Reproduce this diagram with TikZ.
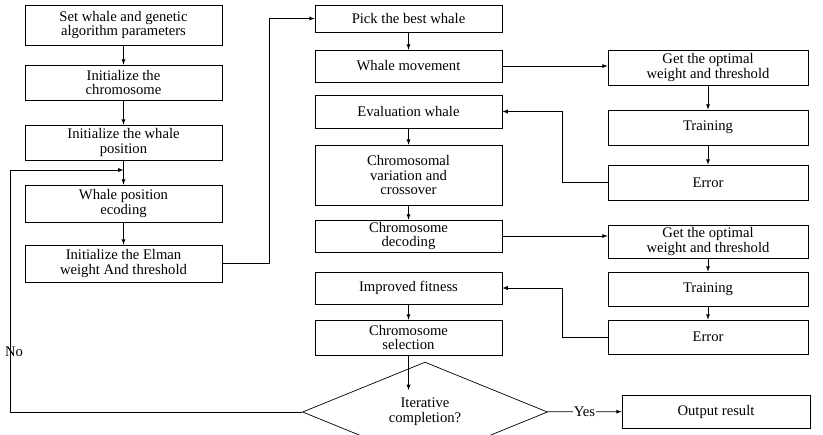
\documentclass[tikz,border=0pt]{standalone}
\usepackage{fontspec}
\setmainfont{Liberation Serif}
\usetikzlibrary{arrows,shapes.geometric}

\begin{document}
\begin{tikzpicture}[x=0.03cm,y=-0.03cm,
    font=\fontsize{12.5}{12.5}\selectfont,
    box/.style={draw,rectangle,semithick,align=center,inner sep=1pt},
    lbox/.style={box,minimum width=5.91cm},
    mbox/.style={box,minimum width=5.61cm},
    rbox/.style={box,minimum width=6cm},
    link/.style={semithick,-latex}]
  \useasboundingbox (0,0) rectangle (823,434);

  % left column
  \node[lbox,minimum height=1.2cm] (set) at (123.5,25) {Set whale and genetic\\algorithm parameters};
  \node[lbox,minimum height=1.05cm] (chrom) at (123.5,82.5) {Initialize the\\chromosome};
  \node[lbox,minimum height=1.05cm] (wpos) at (123.5,142.5) {Initialize the whale\\position};
  \node[lbox,minimum height=1.11cm] (enc) at (123.5,203.5) {Whale position\\ecoding};
  \node[lbox,minimum height=1.11cm] (elman) at (123.5,263.5) {Initialize the Elman\\weight And threshold};

  % middle column
  \node[mbox,minimum height=0.81cm] (best) at (408.5,18.5) {Pick the best whale};
  \node[mbox,minimum height=0.96cm] (move) at (408.5,66) {Whale movement};
  \node[mbox,minimum height=0.99cm] (eval) at (408.5,111.5) {Evaluation whale};
  \node[mbox,minimum height=1.8cm] (cross) at (408.5,175) {Chromosomal\\variation and\\crossover};
  \node[mbox,minimum height=0.96cm] (dec) at (408.5,236) {Chromosome\\decoding};
  \node[mbox,minimum height=0.96cm] (fit) at (408.5,288) {Improved fitness};
  \node[mbox,minimum height=1.05cm] (sel) at (408.5,337.5) {Chromosome\\selection};
  \node[draw,diamond,semithick,minimum width=7.35cm,minimum height=1.5cm,inner sep=0pt,align=center] (iter) at (425,412) {Iterative\\completion?};

  % right column
  \node[rbox,minimum height=1.05cm] (opt1) at (708,67.5) {Get the optimal\\weight and threshold};
  \node[rbox,minimum height=1.05cm] (train1) at (708,127.5) {Training};
  \node[rbox,minimum height=1.05cm] (err1) at (708,182.5) {Error};
  \node[rbox,minimum height=0.99cm] (opt2) at (708,241.5) {Get the optimal\\weight and threshold};
  \node[rbox,minimum height=1.02cm] (train2) at (708,289) {Training};
  \node[rbox,minimum height=1.02cm] (err2) at (708,337) {Error};
  \node[box,minimum width=5.64cm,minimum height=0.99cm] (out) at (716,411.5) {Output result};

  \coordinate (join) at (123.5,170);
  \coordinate (back) at (10,170);
  \coordinate (top) at (408.5,390);

  \draw[link] (set) -- (chrom);
  \draw[link] (chrom) -- (wpos);
  \draw[link] (wpos) -- (enc);
  \draw[link] (enc) -- (elman);
  \draw[link] (elman.east) -- ++(47,0) |- (best.west);
  \draw[link] (best) -- (move);
  \draw[link] (move.east) -- (move.east -| opt1.west);
  \draw[link] (opt1) -- (train1);
  \draw[link] (train1) -- (err1);
  \draw[link] (err1.west) -- ++(-45,0) |- (eval.east);
  \draw[link] (eval) -- (cross);
  \draw[link] (cross) -- (dec);
  \draw[link] (dec.east) -- (dec.east -| opt2.west);
  \draw[link] (opt2) -- (train2);
  \draw[link] (train2) -- (err2);
  \draw[link] (err2.west) -- ++(-45,0) |- (fit.east);
  \draw[link] (fit) -- (sel);
  \draw[link] (sel) -- (top);
  \draw[link] (iter) -- node[fill=white,inner sep=1pt] {Yes} (out);
  \draw[link] (iter.west) -| (back) -- (join);
  \node (no) at (14,352) {No};

\end{tikzpicture}
\end{document}
